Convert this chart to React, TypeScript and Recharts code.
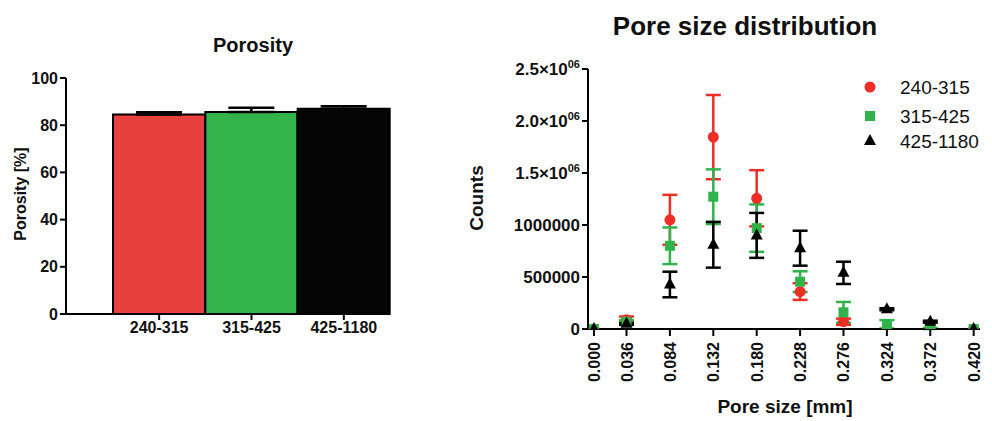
import React from 'react';
import { BarChart, Bar, XAxis, YAxis, ErrorBar, ScatterChart, Scatter, Cell } from 'recharts';

const FONT = '"Liberation Sans", Arial, Helvetica, sans-serif';
const INK = '#111111';

// ---------- Porosity (left) ----------
const porosityCategories = ['240-315', '315-425', '425-1180'];
const porosityValues = [84.5, 85.6, 87.0];
const porosityUpperErrors = [1.0, 1.8, 1.0];
const porosityColors = ['#e8403f', '#33b44a', '#050505'];
const porosityTicks = [0, 20, 40, 60, 80, 100];

// ---------- Pore size distribution (right) ----------
const poreSizes = [0, 0.036, 0.084, 0.132, 0.18, 0.228, 0.276, 0.324, 0.372, 0.42];
const poreTickLabels = ['0.000', '0.036', '0.084', '0.132', '0.180', '0.228', '0.276', '0.324', '0.372', '0.420'];
const series1Name = '240-315';
const series1Counts = [0, 90000, 1050000, 1845000, 1257000, 360000, 70000, 0, 0, 0];
const series1Err = [0, 30000, 240000, 405000, 270000, 80000, 30000, 0, 0, 0];
const series2Name = '315-425';
const series2Counts = [0, 70000, 800000, 1272000, 970000, 455000, 160000, 45000, 5000, 0];
const series2Err = [0, 15000, 176000, 263000, 228000, 100000, 100000, 40000, 5000, 0];
const series3Name = '425-1180';
const series3Counts = [0, 50000, 428000, 810000, 900000, 777000, 540000, 190000, 70000, 0];
const series3Err = [0, 10000, 123000, 220000, 216000, 168000, 107000, 10000, 10000, 0];
const countTicks = [0, 500000, 1000000, 1500000, 2000000, 2500000];
const countTickBase = ['0', '500000', '1000000', '1.5\u00d710', '2.0\u00d710', '2.5\u00d710'];
const countTickExp = ['', '', '', '06', '06', '06'];

const RED = '#ec2e27';
const GREEN = '#2fb34a';
const BLACK = '#000000';

const porosityData = porosityCategories.map((name, i) => ({
  name,
  value: porosityValues[i],
  err: [0, porosityUpperErrors[i]],
}));

const makeSeries = (counts: number[], errs: number[]) =>
  poreSizes.map((x, i) => ({ x, y: counts[i], err: errs[i] }));

const data1 = makeSeries(series1Counts, series1Err);
const data2 = makeSeries(series2Counts, series2Err);
const data3 = makeSeries(series3Counts, series3Err);

const CircleShape = (props: any) => <circle cx={props.cx} cy={props.cy} r={5.5} fill={RED} />;
const SquareShape = (props: any) => (
  <rect x={props.cx - 5} y={props.cy - 5} width={10} height={10} fill={GREEN} />
);
const TriangleShape = (props: any) => (
  <polygon
    points={`${props.cx},${props.cy - 7} ${props.cx - 6},${props.cy + 4} ${props.cx + 6},${props.cy + 4}`}
    fill={BLACK}
  />
);

const CountTick = (props: any) => {
  const { x, y, payload } = props;
  const i = countTicks.indexOf(payload.value);
  const base = i >= 0 ? countTickBase[i] : String(payload.value);
  const exp = i >= 0 ? countTickExp[i] : '';
  return (
    <text x={x} y={y} dy={6} textAnchor="end" fontFamily={FONT} fontWeight="bold" fontSize={17} fill={INK}>
      <tspan>{base}</tspan>
      {exp ? (
        <tspan dy={-7} fontSize={11}>
          {exp}
        </tspan>
      ) : null}
    </text>
  );
};

const PoreTick = (props: any) => {
  const { x, y, payload } = props;
  const i = poreSizes.findIndex((v) => Math.abs(v - payload.value) < 1e-9);
  const label = i >= 0 ? poreTickLabels[i] : String(payload.value);
  return (
    <text
      x={x}
      y={y + 4}
      transform={`rotate(-90, ${x}, ${y + 4})`}
      textAnchor="end"
      dy={6}
      fontFamily={FONT}
      fontWeight="bold"
      fontSize={16}
      fill={INK}
    >
      {label}
    </text>
  );
};

export default function App() {
  const axisStroke = { stroke: '#000', strokeWidth: 2 };
  return (
    <div
      style={{
        position: 'absolute',
        left: 0,
        top: 0,
        width: 992,
        height: 421,
        overflow: 'hidden',
        background: '#ffffff',
        fontFamily: FONT,
      }}
    >
      <div style={{ position: 'absolute', left: 0, top: 0 }}>
        <BarChart
          width={400}
          height={421}
          data={porosityData}
          margin={{ top: 78, right: 10, bottom: 77, left: 16 }}
          barCategoryGap={0}
          barGap={0}
        >
          <XAxis
            dataKey="name"
            padding={{ left: 47, right: 0 }}
            axisLine={axisStroke}
            tickLine={axisStroke}
            tickSize={6}
            height={30}
            tick={{ fontFamily: FONT, fontWeight: 'bold', fontSize: 16, fill: INK }}
          />
          <YAxis
            type="number"
            domain={[0, 100]}
            ticks={porosityTicks}
            width={50}
            axisLine={axisStroke}
            tickLine={axisStroke}
            tickSize={6}
            interval={0}
            tick={{ fontFamily: FONT, fontWeight: 'bold', fontSize: 16, fill: INK }}
          />
          <Bar dataKey="value" stroke="#000" strokeWidth={2} isAnimationActive={false}>
            {porosityData.map((d, i) => (
              <Cell key={d.name} fill={porosityColors[i]} />
            ))}
            <ErrorBar dataKey="err" direction="y" width={23} stroke="#000" strokeWidth={2.5} />
          </Bar>
        </BarChart>
      </div>

      <div style={{ position: 'absolute', left: 400, top: 0 }}>
        <ScatterChart width={592} height={421} margin={{ top: 69, right: 12, bottom: 32, left: 78 }}>
          <XAxis
            type="number"
            dataKey="x"
            domain={[-0.0066, 0.427]}
            allowDataOverflow
            ticks={poreSizes}
            interval={0}
            axisLine={axisStroke}
            tickLine={axisStroke}
            tickSize={7}
            height={60}
            tick={<PoreTick />}
          />
          <YAxis
            type="number"
            dataKey="y"
            domain={[0, 2500000]}
            allowDataOverflow
            ticks={countTicks}
            interval={0}
            width={110}
            axisLine={axisStroke}
            tickLine={axisStroke}
            tickSize={6}
            tick={<CountTick />}
          />
          <Scatter name={series1Name} data={data1} shape={CircleShape} isAnimationActive={false}>
            <ErrorBar dataKey="err" direction="y" width={7.5} stroke={RED} strokeWidth={2.5} />
          </Scatter>
          <Scatter name={series2Name} data={data2} shape={SquareShape} isAnimationActive={false}>
            <ErrorBar dataKey="err" direction="y" width={7.5} stroke={GREEN} strokeWidth={2.5} />
          </Scatter>
          <Scatter name={series3Name} data={data3} shape={TriangleShape} isAnimationActive={false}>
            <ErrorBar dataKey="err" direction="y" width={7.5} stroke={BLACK} strokeWidth={2.5} />
          </Scatter>
        </ScatterChart>
      </div>

      <svg
        width={992}
        height={421}
        style={{ position: 'absolute', left: 0, top: 0, pointerEvents: 'none' }}
      >
        <text x={253} y={52} textAnchor="middle" fontFamily={FONT} fontWeight="bold" fontSize={20} fill={INK}>
          Porosity
        </text>
        <text
          x={26}
          y={194}
          transform="rotate(-90, 26, 194)"
          textAnchor="middle"
          fontFamily={FONT}
          fontWeight="bold"
          fontSize={16}
          fill={INK}
        >
          Porosity [%]
        </text>

        <text x={745} y={35} textAnchor="middle" fontFamily={FONT} fontWeight="bold" fontSize={26} fill={INK}>
          Pore size distribution
        </text>
        <text
          x={483}
          y={198}
          transform="rotate(-90, 483, 198)"
          textAnchor="middle"
          fontFamily={FONT}
          fontWeight="bold"
          fontSize={19}
          fill={INK}
        >
          Counts
        </text>
        <text x={785} y={413} textAnchor="middle" fontFamily={FONT} fontWeight="bold" fontSize={19} fill={INK}>
          Pore size [mm]
        </text>

        <circle cx={870} cy={87} r={5.5} fill={RED} />
        <text x={900} y={94} fontFamily={FONT} fontSize={19} fill={INK}>
          {series1Name}
        </text>
        <rect x={865} y={111} width={10} height={10} fill={GREEN} />
        <text x={900} y={123} fontFamily={FONT} fontSize={19} fill={INK}>
          {series2Name}
        </text>
        <polygon points="870,134 864,145 876,145" fill={BLACK} />
        <text x={900} y={148} fontFamily={FONT} fontSize={19} fill={INK}>
          {series3Name}
        </text>
      </svg>
    </div>
  );
}
